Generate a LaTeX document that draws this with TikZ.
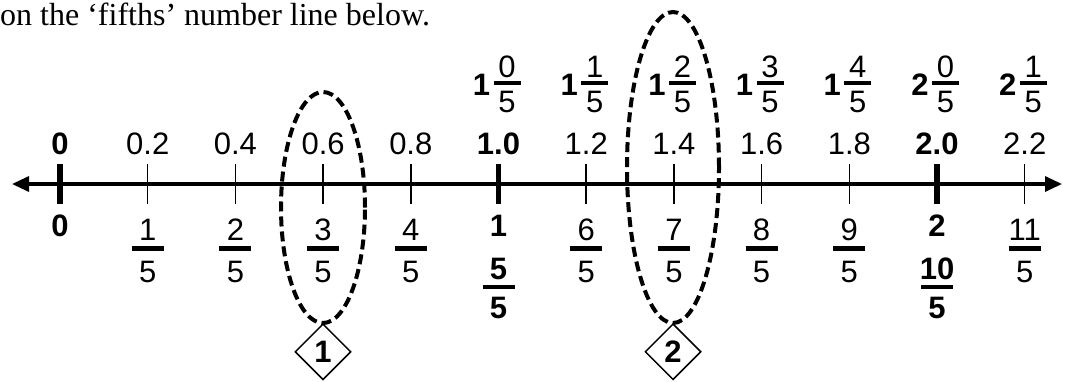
\documentclass[tikz,border=0pt]{standalone}
\usepackage{fontspec}
\setmainfont{Liberation Sans}
\newfontfamily\TiMes{Liberation Serif}
\usetikzlibrary{arrows.meta,shapes.geometric,positioning}
\begin{document}
\begin{tikzpicture}[x=1pt,y=-1pt,
	big/.style={font=\fontsize{31}{36}\selectfont,inner sep=0pt,anchor=base},
	bigb/.style={font=\fontsize{31}{36}\selectfont\bfseries,inner sep=0pt,anchor=base},
	bar/.style={line width=4.5pt},
	loop/.style={draw,ellipse,line width=4pt,dash pattern=on 10pt off 5pt,inner sep=0pt},
	tag/.style={draw,diamond,aspect=1,line width=1.5pt,minimum width=56pt,minimum height=56pt,inner sep=0pt,font=\fontsize{31}{36}\selectfont\bfseries}]
		\def\StEp{87.7}%tick spacing
		\def\AxY{184}%axis height
		\useasboundingbox (0,0) rectangle (1065,381);
		\node[anchor=base west,inner sep=0pt,font=\TiMes\fontsize{32}{36}\selectfont] (head) at (0,25) {on the ‘fifths’ number line below.};
		% axis
		\coordinate (L) at (12,\AxY);
		\coordinate (R) at (1062,\AxY);
		\draw[line width=3.2pt,{Triangle[length=17pt,width=15pt]}-{Triangle[length=17pt,width=15pt]}] (L)--(R);
		\foreach \k in {1,2,3,4,6,7,8,9,11}{
			\pgfmathsetmacro\X{60+\StEp*\k}
			\draw[line width=1.5pt] (\X,164)--(\X,204);
		}
		\foreach \k in {0,5,10}{
			\pgfmathsetmacro\X{60+\StEp*\k}
			\draw[line width=5.5pt] (\X,164)--(\X,204);
		}
		% decimals
		\foreach \k/\d in {1/0.2,2/0.4,3/0.6,4/0.8,6/1.2,7/1.4,8/1.6,9/1.8,11/2.2}
			\node[big] (d\k) at ({60+\StEp*\k},154) {\d};
		\foreach \k/\d in {0/0,5/1.0,10/2.0}
			\node[bigb] (d\k) at ({60+\StEp*\k},154) {\d};
		% mixed numbers
		\foreach \k/\w/\n in {5/1/0,6/1/1,7/1/2,8/1/3,9/1/4,10/2/0,11/2/1}{
			\pgfmathsetmacro\X{60+\StEp*\k}
			\node[bigb] (w\k) at (\X-17,95) {\w};
			\node[big] (t\k) at (\X+8.5,77) {\n};
			\draw[bar] (\X-5,83)--(\X+22,83);
			\node[big] (b\k) at (\X+8.5,112) {5};
		}
		% fifths
		\foreach \k in {1,2,3,4,6,7,8,9,11}{
			\pgfmathsetmacro\X{60+\StEp*\k}
			\node[big] (n\k) at (\X,240) {\k};
			\draw[bar] (\X-16,248.5)--(\X+16,248.5);
			\node[big] (m\k) at (\X,282) {5};
		}
		\foreach \k/\w in {0/0,5/1,10/2}
			\node[bigb] (i\k) at ({60+\StEp*\k},236) {\w};
		\foreach \k/\n in {5/5,10/10}{
			\pgfmathsetmacro\X{60+\StEp*\k}
			\node[bigb] (n\k) at (\X,279) {\n};
			\draw[bar] (\X-16,287)--(\X+16,287);
			\node[bigb] (m\k) at (\X,318) {5};
		}
		% loops and tags
		\node[loop,minimum width=84pt,minimum height=231pt] (e1) at (323,207.5) {};
		\node[loop,minimum width=92pt,minimum height=311pt] (e2) at (673,167.5) {};
		\node[tag,below=-2pt of e1] (g1) {1};
		\node[tag,below=-2pt of e2] (g2) {2};
	\end{tikzpicture}
\end{document}
